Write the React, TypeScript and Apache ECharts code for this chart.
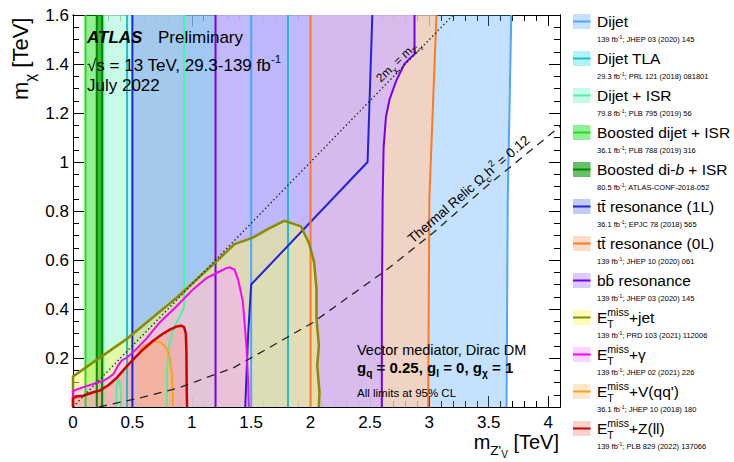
import { useEffect, useRef } from 'react';
import * as echarts from 'echarts';

const FONT = '"Liberation Sans", Arial, Helvetica, sans-serif';

const X_MAX = 4.1;
const Y_MAX = 1.6;
const X_TICK = 0.5;
const X_MINOR = 0.1;
const Y_TICK = 0.2;
const Y_MINOR = 0.05;

type P = [number, number];

// ---- exclusion regions (m_Z' [TeV], m_chi [TeV]) ----
const DIJET_AREA: P[] = [[1.5, 0], [1.5, 1.6], [3.69, 1.6], [3.66, 0.85], [3.65, 0]];
const DIJET_EDGES: P[][] = [[[1.5, 0], [1.5, 1.6]], [[3.65, 0], [3.66, 0.85], [3.69, 1.6]]];

const TLA_AREA: P[] = [[0.455, 0], [0.455, 1.6], [1.81, 1.6], [1.81, 0]];
const TLA_EDGES: P[][] = [[[0.455, 0], [0.455, 1.6]], [[1.81, 0], [1.81, 1.6]]];

const ISR_RIGHT: P[] = [[0.935, 1.6], [0.935, 0.41], [0.91, 0.38], [0.885, 0.358], [0.843, 0.318], [0.81, 0.25], [0.795, 0.17], [0.79, 0.11], [0.79, 0]];
const ISR_HOLE: P[] = [[0.405, 0], [0.403, 0.07], [0.395, 0.1], [0.385, 0.108], [0.375, 0.1], [0.367, 0.07], [0.365, 0]];
const ISR_AREA: P[] = [[0.255, 0], [0.255, 1.6], ...ISR_RIGHT, ...ISR_HOLE];
const ISR_EDGES: P[][] = [[[0.255, 0], [0.255, 1.6]], ISR_RIGHT, ISR_HOLE];

const BOOSTED_AREA: P[] = [[0.105, 0], [0.105, 1.6], [0.245, 1.6], [0.245, 0]];
const BOOSTED_EDGES: P[][] = [[[0.105, 0], [0.105, 1.6]]];

const DIB_AREA: P[] = [[0.2, 0], [0.2, 1.6], [0.245, 1.6], [0.245, 0]];
const DIB_EDGES: P[][] = [[[0.2, 0], [0.2, 1.6]], [[0.245, 0], [0.245, 1.6]]];

const TT1L_RIGHT: P[] = [[2.52, 1.6], [2.48, 1.0], [1.5, 0.5], [1.475, 0.3], [1.45, 0]];
const TT1L_AREA: P[] = [[0.5, 0], [0.5, 1.6], ...TT1L_RIGHT];
const TT1L_EDGES: P[][] = [[[0.5, 0], [0.5, 1.6]], TT1L_RIGHT];

const TT0L_RIGHT: P[] = [[3.06, 1.6], [3.0, 0.85], [2.99, 0]];
const TT0L_AREA: P[] = [[2.0, 0], [2.0, 1.6], ...TT0L_RIGHT];
const TT0L_EDGES: P[][] = [[[2.0, 0], [2.0, 1.6]], TT0L_RIGHT];

const BB_RIGHT: P[] = [[2.875, 1.6], [2.875, 1.44], [2.84, 1.425], [2.79, 1.4], [2.72, 1.33], [2.665, 1.255], [2.635, 1.185], [2.615, 1.06], [2.607, 0.85], [2.6, 0.4], [2.6, 0]];
const BB_AREA: P[] = [[1.2, 0], [1.2, 1.6], ...BB_RIGHT];
const BB_EDGES: P[][] = [[[1.2, 0], [1.2, 1.6]], BB_RIGHT];

const JET_CURVE: P[] = [[0, 0], [0, 0.125], [0.45, 0.277], [0.87, 0.445], [1.22, 0.6], [1.36, 0.665], [1.51, 0.69], [1.655, 0.73], [1.78, 0.76], [1.92, 0.737], [1.99, 0.665], [2.03, 0.59], [2.05, 0.48], [2.05, 0.36], [2.07, 0.25], [2.056, 0.17], [2.075, 0.06], [2.07, 0]];
const GAMMA_CURVE: P[] = [[0, 0], [0, 0.066], [0.08, 0.08], [0.17, 0.094], [0.255, 0.107], [0.3, 0.12], [0.34, 0.134], [0.38, 0.17], [0.41, 0.19], [0.45, 0.2], [0.52, 0.23], [0.62, 0.28], [0.73, 0.345], [0.87, 0.41], [1.01, 0.48], [1.12, 0.525], [1.22, 0.55], [1.29, 0.567], [1.32, 0.57], [1.36, 0.56], [1.39, 0.52], [1.43, 0.43], [1.46, 0.25], [1.475, 0.1], [1.48, 0]];
const VQQ_CURVE: P[] = [[0.55, 0.228], [0.6, 0.25], [0.65, 0.263], [0.69, 0.268], [0.74, 0.263], [0.77, 0.25], [0.8, 0.228], [0.815, 0.2], [0.83, 0.14], [0.84, 0.06], [0.84, 0]];
const VQQ_AREA: P[] = [[0.55, 0], ...VQQ_CURVE];
const ZLL_CURVE: P[] = [[0, 0], [0, 0.035], [0.03, 0.043], [0.087, 0.046], [0.17, 0.06], [0.23, 0.068], [0.3, 0.09], [0.37, 0.12], [0.45, 0.165], [0.51, 0.195], [0.58, 0.23], [0.67, 0.268], [0.75, 0.297], [0.815, 0.316], [0.87, 0.328], [0.91, 0.332], [0.935, 0.326], [0.95, 0.3], [0.955, 0.22], [0.957, 0.09], [0.96, 0]];

// reference lines
const DIAG_LINE: P[] = [[0, 0], [3.2, 1.6]];
const RELIC_LINE: P[] = [[0.22, 0], [0.4, 0.02], [0.59, 0.04], [0.87, 0.075], [1.04, 0.105], [1.35, 0.16], [1.63, 0.236], [2.02, 0.345], [2.64, 0.56], [3.03, 0.71], [3.48, 0.9], [4.1, 1.145]];

// ---- styles & legend ----
const FILLS = [
  'rgba(77,166,255,0.33)', 'rgba(100,230,240,0.5)', 'rgba(185,250,225,0.8)', 'rgba(0,220,0,0.43)',
  'rgba(0,150,0,0.6)', 'rgba(150,170,240,0.6)', 'rgba(255,205,175,0.72)', 'rgba(206,179,255,0.71)',
  'rgba(250,250,110,0.5)', 'rgba(250,170,255,0.5)', 'rgba(255,205,130,0.45)', 'rgba(245,155,145,0.45)',
];
const LINES = [
  '#4da6ff', '#1fbfc8', '#4ff0a0', '#22dd22', '#008c00', '#2222d8',
  '#ff7a1f', '#7a00e8', '#8b8b00', '#ff00ff', '#ffa01a', '#cc0000',
];
const LINE_WIDTHS = [2, 2, 2, 2, 2, 2, 2, 2, 2.5, 2, 2, 2.5];

type Seg = { t: string; k?: 'sub' | 'sup' | 'ss'; b?: boolean; i?: boolean; keep?: boolean };
const ET: Seg[] = [{ t: 'E' }, { t: 'miss', k: 'sup', keep: true }, { t: 'T', k: 'sub' }];
const LEGEND_NAMES: Seg[][] = [
  [{ t: 'Dijet' }],
  [{ t: 'Dijet TLA' }],
  [{ t: 'Dijet + ISR' }],
  [{ t: 'Boosted dijet + ISR' }],
  [{ t: 'Boosted di-' }, { t: 'b', i: true }, { t: ' + ISR' }],
  [{ t: 'tt\u0304 resonance (1L)' }],
  [{ t: 'tt\u0304 resonance (0L)' }],
  [{ t: 'bb\u0304 resonance' }],
  [...ET, { t: '+jet' }],
  [...ET, { t: '+\u03b3' }],
  [...ET, { t: "+V(qq')" }],
  [...ET, { t: '+Z(ll)' }],
];
const LEGEND_LUMI = ['139', '29.3', '79.8', '36.1', '80.5', '36.1', '139', '139', '139', '139', '36.1', '139'];
const LEGEND_REFS = [
  'JHEP 03 (2020) 145', 'PRL 121 (2018) 081801', 'PLB 795 (2019) 56', 'PLB 788 (2019) 316',
  'ATLAS-CONF-2018-052', 'EPJC 78 (2018) 565', 'JHEP 10 (2020) 061', 'JHEP 03 (2020) 145',
  'PRD 103 (2021) 112006', 'JHEP 02 (2021) 226', 'JHEP 10 (2018) 180', 'PLB 829 (2022) 137066',
];

// ---- text helpers ----
let ctx: CanvasRenderingContext2D | null = null;
function measure(t: string, s: number, b?: boolean, i?: boolean) {
  if (!ctx) ctx = document.createElement('canvas').getContext('2d');
  ctx!.font = `${i ? 'italic ' : ''}${b ? 'bold ' : ''}${s}px ${FONT}`;
  return ctx!.measureText(t).width;
}
function segSize(k: Seg['k'], size: number) {
  return k === 'sub' || k === 'sup' ? size * 0.68 : k === 'ss' ? size * 0.5 : size;
}
function segDy(k: Seg['k'], size: number) {
  return k === 'sub' ? size * 0.3 : k === 'sup' ? -size * 0.45 : k === 'ss' ? size * 0.45 : 0;
}
function rowWidth(segs: Seg[], size: number) {
  let x = 0, kept = 0;
  for (const g of segs) {
    const w = measure(g.t, segSize(g.k, size), g.b, g.i);
    if (g.keep) kept = Math.max(kept, w); else { x += Math.max(w, kept); kept = 0; }
  }
  return x;
}
function row(segs: Seg[], x0: number, base: number, size: number, fill = '#000'): any[] {
  let x = x0, kept = 0;
  const out: any[] = [];
  for (const g of segs) {
    const s = segSize(g.k, size);
    const w = measure(g.t, s, g.b, g.i);
    out.push({
      type: 'text', x, y: base + segDy(g.k, size) - 0.35 * s, z: 100, silent: true,
      style: {
        text: g.t, fontSize: s, fontFamily: FONT, fontWeight: g.b ? 'bold' : 'normal',
        fontStyle: g.i ? 'italic' : 'normal', fill, align: 'left', verticalAlign: 'middle',
      },
    });
    if (g.keep) kept = Math.max(kept, w); else { x += Math.max(w, kept); kept = 0; }
  }
  return out;
}

function buildOption() {
  const regions = [
    { area: DIJET_AREA, edges: DIJET_EDGES },
    { area: TLA_AREA, edges: TLA_EDGES },
    { area: ISR_AREA, edges: ISR_EDGES },
    { area: BOOSTED_AREA, edges: BOOSTED_EDGES },
    { area: DIB_AREA, edges: DIB_EDGES },
    { area: TT1L_AREA, edges: TT1L_EDGES },
    { area: TT0L_AREA, edges: TT0L_EDGES },
    { area: BB_AREA, edges: BB_EDGES },
    { area: JET_CURVE, edges: [JET_CURVE] },
    { area: GAMMA_CURVE, edges: [GAMMA_CURVE] },
    { area: VQQ_AREA, edges: [VQQ_CURVE] },
    { area: ZLL_CURVE, edges: [ZLL_CURVE] },
  ];

  const fillSeries = regions.map((r, i) => ({
    type: 'custom', coordinateSystem: 'cartesian2d', silent: true, z: 1, data: [[0, 0]],
    renderItem: (_p: any, api: any) => ({
      type: 'polygon', shape: { points: r.area.map((p) => api.coord(p)) }, style: { fill: FILLS[i] },
    }),
  }));
  const lineSeries = (lines: P[][], stroke: string, width: number, dash?: number[]) => ({
    type: 'custom', coordinateSystem: 'cartesian2d', silent: true, z: 3, data: [[0, 0]],
    renderItem: (_p: any, api: any) => ({
      type: 'group',
      children: lines.map((l) => ({
        type: 'polyline', shape: { points: l.map((p) => api.coord(p)) },
        style: { stroke, lineWidth: width, fill: null, lineDash: dash || null },
      })),
    }),
  });
  const edgeSeries = regions.map((r, i) => lineSeries(r.edges, LINES[i], LINE_WIDTHS[i]));

  const axisBase = {
    type: 'value',
    axisLine: { show: true, onZero: false, lineStyle: { color: '#000', width: 1 } },
    splitLine: { show: false },
  };
  const xAx = (position: string, interval: number, len: number, labels: boolean) => ({
    ...axisBase, position, min: 0, max: X_MAX, interval,
    axisTick: { show: true, inside: true, length: len, lineStyle: { color: '#000', width: 1 } },
    axisLabel: labels
      ? { show: true, fontSize: 17, fontFamily: FONT, color: '#000', margin: 7, showMaxLabel: false }
      : { show: false },
  });
  const yAx = (position: string, interval: number, len: number, labels: boolean) => ({
    ...axisBase, position, min: 0, max: Y_MAX, interval,
    axisTick: { show: true, inside: true, length: len, lineStyle: { color: '#000', width: 1 } },
    axisLabel: labels
      ? { show: true, fontSize: 17, fontFamily: FONT, color: '#000', margin: 4, showMinLabel: false }
      : { show: false },
  });

  const els: any[] = [];
  // legend
  LEGEND_NAMES.forEach((name, i) => {
    const yc = 21.5 + 37 * i;
    els.push({ type: 'rect', z: 100, silent: true, shape: { x: 573, y: yc - 7.5, width: 17.5, height: 15 }, style: { fill: FILLS[i] } });
    els.push({ type: 'line', z: 101, silent: true, shape: { x1: 573, y1: yc, x2: 590.5, y2: yc }, style: { stroke: LINES[i], lineWidth: 2 } });
    els.push(...row(name, 597, yc + 5.5, 15.5));
    els.push(...row([{ t: LEGEND_LUMI[i] + ' fb' }, { t: '-1', k: 'sup' }, { t: '; ' + LEGEND_REFS[i] }], 597, yc + 20.2, 7.5));
  });
  // ATLAS label
  els.push(...row([{ t: 'ATLAS', b: true, i: true }], 87, 43, 17));
  els.push(...row([{ t: 'Preliminary' }], 158, 43, 17));
  els.push(...row([{ t: '\u221as = 13 TeV, 29.3-139 fb' }, { t: '-1', k: 'sup' }], 87, 71, 17));
  els.push(...row([{ t: 'July 2022' }], 87, 91, 17));
  // model annotation
  els.push(...row([{ t: 'Vector mediator, Dirac DM' }], 357, 355, 14.5));
  els.push(...row([
    { t: 'g', b: true }, { t: 'q', k: 'sub', b: true }, { t: ' = 0.25, g', b: true }, { t: 'l', k: 'sub', b: true },
    { t: ' = 0, g', b: true }, { t: '\u03c7', k: 'sub', b: true }, { t: ' = 1', b: true },
  ], 357, 373, 15));
  els.push(...row([{ t: 'All limits at 95% CL' }], 357, 397, 11.5));
  // line labels
  els.push({
    type: 'group', x: 381, y: 83, rotation: (44 * Math.PI) / 180,
    children: row([{ t: '2m' }, { t: '\u03c7', k: 'sub' }, { t: ' = m' }, { t: "Z'", k: 'sub' }, { t: 'V', k: 'ss' }], 0, 0, 12),
  });
  els.push({
    type: 'group', x: 413, y: 244, rotation: (41 * Math.PI) / 180,
    children: row([{ t: 'Thermal Relic \u03a9' }, { t: 'c', k: 'sub' }, { t: 'h' }, { t: '2', k: 'sup' }, { t: ' = 0.12' }], 0, 0, 13.5),
  });
  // axis titles
  els.push({
    type: 'group', x: 28, y: 100, rotation: Math.PI / 2,
    children: row([{ t: 'm' }, { t: '\u03c7', k: 'sub' }, { t: ' [TeV]' }], 0, 0, 22),
  });
  const xTitle: Seg[] = [{ t: 'm' }, { t: "Z'", k: 'sub' }, { t: 'V', k: 'ss' }, { t: ' [TeV]' }];
  els.push(...row(xTitle, 559 - rowWidth(xTitle, 20), 449, 20));

  return {
    animation: false,
    backgroundColor: '#ffffff',
    grid: { left: 73, top: 15, right: 174, bottom: 55, containLabel: false },
    xAxis: [
      xAx('bottom', X_TICK, 11, true),
      xAx('bottom', X_MINOR, 6, false),
      xAx('top', X_TICK, 11, false),
      xAx('top', X_MINOR, 6, false),
    ],
    yAxis: [
      yAx('left', Y_TICK, 11, true),
      yAx('left', Y_MINOR, 6, false),
      yAx('right', Y_TICK, 11, false),
      yAx('right', Y_MINOR, 6, false),
    ],
    series: [
      ...fillSeries,
      ...edgeSeries,
      lineSeries([DIAG_LINE], '#222', 1.3, [1.5, 2.5]),
      lineSeries([RELIC_LINE], '#222', 1.3, [8, 6]),
    ],
    graphic: { elements: els },
  };
}

export default function App() {
  const ref = useRef<HTMLDivElement>(null);
  useEffect(() => {
    document.body.style.margin = '0';
    const chart = echarts.init(ref.current!, null, { renderer: 'svg' });
    chart.setOption(buildOption() as any);
    return () => chart.dispose();
  }, []);
  return <div ref={ref} style={{ position: 'absolute', left: 0, top: 0, width: 734, height: 462 }} />;
}
